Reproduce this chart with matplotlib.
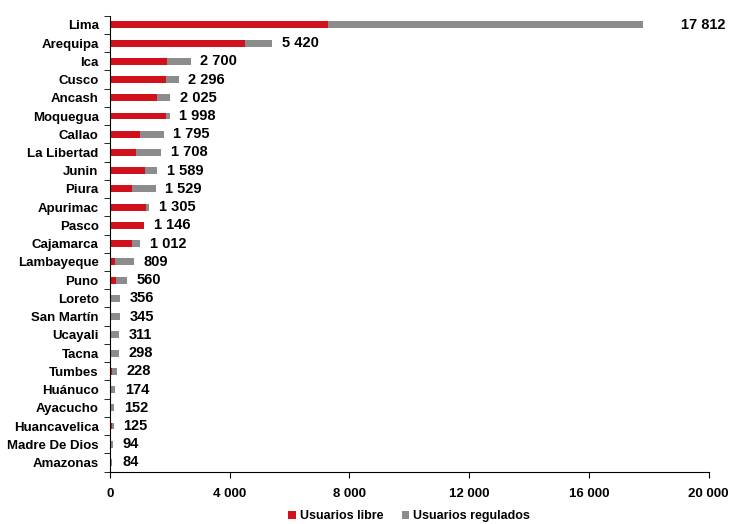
import matplotlib.pyplot as plt
import numpy as np
from matplotlib.ticker import FuncFormatter

plt.rcParams['font.family'] = ['Liberation Sans', 'DejaVu Sans']
plt.rcParams['font.weight'] = 'bold'

regiones = ["Lima", "Arequipa", "Ica", "Cusco", "Ancash", "Moquegua", "Callao",
            "La Libertad", "Junin", "Piura", "Apurimac", "Pasco", "Cajamarca",
            "Lambayeque", "Puno", "Loreto", "San Martín", "Ucayali", "Tacna",
            "Tumbes", "Huánuco", "Ayacucho", "Huancavelica", "Madre De Dios", "Amazonas"]
totales = [17812, 5420, 2700, 2296, 2025, 1998, 1795, 1708, 1589, 1529, 1305, 1146,
           1012, 809, 560, 356, 345, 311, 298, 228, 174, 152, 125, 94, 84]
libres = [7300, 4520, 1910, 1890, 1560, 1890, 1000, 860, 1180, 750, 1220, 1130,
          750, 170, 220, 0, 0, 0, 0, 60, 0, 0, 90, 0, 0]
regulados = [t - l for t, l in zip(totales, libres)]

def miles(v):
    return f"{int(v):,}".replace(",", " ")

fig, ax = plt.subplots(figsize=(7.32, 5.24), dpi=100)
fig.subplots_adjust(left=0.150, right=0.968, top=0.97, bottom=0.10)

y = np.arange(len(regiones))
h = 0.38
ax.barh(y, libres, height=h, color="#d0101a", label="Usuarios libre")
ax.barh(y, regulados, left=libres, height=h, color="#8c8c8c", label="Usuarios regulados")

for i, t in enumerate(totales):
    pad = 27 if i == 0 else 7   # points (~38 px / ~10 px)
    ax.annotate(miles(t), (t, i), xytext=(pad, 0), textcoords="offset points",
                va="center", ha="left", fontsize=10.5, fontweight="bold")

ax.set_ylim(len(regiones) - 0.5, -0.5)
ax.set_xlim(0, 20000)
ax.set_xticks(range(0, 20001, 4000))
ax.xaxis.set_major_formatter(FuncFormatter(lambda v, p: miles(v)))
ax.set_yticks(y)
ax.set_yticklabels(regiones)
ax.set_yticks(np.arange(-0.5, len(regiones)), minor=True)
ax.tick_params(axis="y", which="major", length=0, pad=8, labelsize=9.5)
ax.tick_params(axis="y", which="minor", length=4, direction="out")
ax.tick_params(axis="x", length=4, direction="out", labelsize=9.5, pad=8)
for s in ["top", "right"]:
    ax.spines[s].set_visible(False)

ax.legend(loc="center", bbox_to_anchor=(0.5, -0.098), ncol=2, frameon=False,
          fontsize=9, handlelength=0.6, handleheight=0.6, handletextpad=0.3,
          columnspacing=1.5, borderpad=0.1)

fig.savefig("out.png", dpi=100)
